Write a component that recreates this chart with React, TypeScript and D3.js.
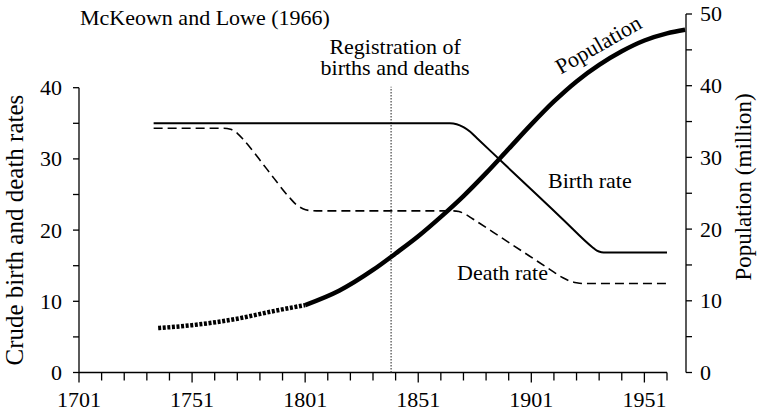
import React, { useRef, useEffect } from 'react';
import * as d3 from 'd3';

const birthYears = [1734, 1865, 1868, 1871, 1874, 1877, 1890, 1903, 1915, 1928, 1930, 1932, 1934, 1961];
const birthRate = [35, 35, 34.87, 34.45, 33.8, 32.9, 29.0, 25.1, 21.5, 17.6, 17.1, 16.9, 16.85, 16.85];

const deathYears = [1734, 1765, 1768, 1771, 1774, 1784, 1794, 1797, 1800, 1803, 1806, 1866, 1869, 1872, 1875, 1888, 1900, 1911, 1915, 1918, 1921, 1924, 1961];
const deathRate = [34.3, 34.3, 34.15, 33.6, 32.6, 28.6, 24.6, 23.6, 23.0, 22.75, 22.7, 22.7, 22.6, 22.2, 21.6, 18.9, 16.4, 14.1, 13.3, 12.85, 12.6, 12.5, 12.5];

// estimated population before registration (dotted part)
const popEstYears = [1736, 1751, 1771, 1786, 1801];
const popEst = [6.2, 6.6, 7.5, 8.5, 9.4];

const popYears = [1801, 1816, 1831, 1841, 1851, 1861, 1871, 1881, 1891, 1901, 1911, 1921, 1931, 1941, 1951, 1961, 1969];
const population = [9.4, 11.4, 14.3, 16.6, 19.0, 21.7, 24.6, 27.8, 31.2, 34.6, 37.8, 40.6, 42.9, 44.8, 46.3, 47.3, 47.8];

const registrationYear = 1839;
const xTickYears = d3.range(1701, 1962, 10);
const xLabelYears = [1701, 1751, 1801, 1851, 1901, 1951];
const leftTicks = d3.range(0, 41, 5);
const rightTicks = d3.range(0, 51, 5);

const FONT = '"Liberation Serif", "Times New Roman", serif';

const App = () => {
  const svgRef = useRef<SVGSVGElement>(null);
  const width = 760;
  const height = 413;

  useEffect(() => {
    document.body.style.margin = '0';
    const svg = d3.select(svgRef.current);
    svg.selectAll('*').remove();

    const x = d3.scaleLinear().domain([1701, 1961]).range([79, 667]);
    const yL = d3.scaleLinear().domain([0, 40]).range([372.5, 87.7]);
    const yR = d3.scaleLinear().domain([0, 50]).range([372.5, 14]);
    const rightAxisX = 686;

    // left axis
    const gL = svg.append('g').attr('transform', `translate(${x(1701)},0)`);
    gL.append('line').attr('y1', yL(0)).attr('y2', yL(40)).attr('stroke', '#000').attr('stroke-width', 1.3);
    gL.selectAll('line.tick').data(leftTicks).join('line')
      .attr('class', 'tick')
      .attr('x1', -6).attr('x2', 0)
      .attr('y1', d => yL(d)).attr('y2', d => yL(d))
      .attr('stroke', '#000').attr('stroke-width', 1.3);
    gL.selectAll('text').data(leftTicks.filter(d => d % 10 === 0)).join('text')
      .attr('x', -17).attr('y', d => yL(d)).attr('dy', '0.34em')
      .attr('text-anchor', 'end')
      .style('font-family', FONT).style('font-size', '22px')
      .text(d => d);

    // x axis
    const gX = svg.append('g').attr('transform', `translate(0,${yL(0)})`);
    gX.append('line').attr('x1', x(1701)).attr('x2', x(1961)).attr('stroke', '#000').attr('stroke-width', 1.3);
    gX.selectAll('line.tick').data(xTickYears).join('line')
      .attr('class', 'tick')
      .attr('x1', d => x(d)).attr('x2', d => x(d))
      .attr('y1', 0).attr('y2', d => (xLabelYears.includes(d) ? 10 : 8))
      .attr('stroke', '#000').attr('stroke-width', 1.3);
    gX.selectAll('text').data(xLabelYears).join('text')
      .attr('x', d => x(d)).attr('y', 34)
      .attr('text-anchor', 'middle')
      .style('font-family', FONT).style('font-size', '22px')
      .text(d => d);

    // right axis
    const gR = svg.append('g').attr('transform', `translate(${rightAxisX},0)`);
    gR.append('line').attr('y1', yR(0)).attr('y2', yR(50)).attr('stroke', '#000').attr('stroke-width', 1.3);
    gR.selectAll('line.tick').data(rightTicks).join('line')
      .attr('class', 'tick')
      .attr('x1', 0).attr('x2', 6)
      .attr('y1', d => yR(d)).attr('y2', d => yR(d))
      .attr('stroke', '#000').attr('stroke-width', 1.3);
    gR.selectAll('text').data(rightTicks.filter(d => d % 10 === 0)).join('text')
      .attr('x', 14).attr('y', d => yR(d)).attr('dy', '0.34em')
      .style('font-family', FONT).style('font-size', '22px')
      .text(d => d);

    // axis titles
    svg.append('text')
      .attr('transform', `translate(23,${(yL(0) + yL(40)) / 2}) rotate(-90)`)
      .attr('text-anchor', 'middle')
      .style('font-family', FONT).style('font-size', '25px')
      .text('Crude birth and death rates');
    svg.append('text')
      .attr('transform', `translate(751,187) rotate(-90)`)
      .attr('text-anchor', 'middle')
      .style('font-family', FONT).style('font-size', '23px')
      .text('Population (million)');

    // registration line
    svg.append('line')
      .attr('x1', x(registrationYear)).attr('x2', x(registrationYear))
      .attr('y1', yL(0)).attr('y2', yL(40) - 1)
      .attr('stroke', '#444').attr('stroke-width', 1.2)
      .attr('stroke-dasharray', '1.5,1.5');

    const lineL = d3.line<[number, number]>()
      .x(d => x(d[0])).y(d => yL(d[1]))
      .curve(d3.curveMonotoneX);
    const lineR = d3.line<[number, number]>()
      .x(d => x(d[0])).y(d => yR(d[1]))
      .curve(d3.curveMonotoneX);

    const zip = (a: number[], b: number[]) => a.map((v, i) => [v, b[i]] as [number, number]);

    svg.append('path')
      .datum(zip(birthYears, birthRate))
      .attr('fill', 'none').attr('stroke', '#000').attr('stroke-width', 2)
      .attr('d', lineL);

    svg.append('path')
      .datum(zip(deathYears, deathRate))
      .attr('fill', 'none').attr('stroke', '#000').attr('stroke-width', 1.6)
      .attr('stroke-dasharray', '9,5')
      .attr('d', lineL);

    svg.append('path')
      .datum(zip(popEstYears, popEst))
      .attr('fill', 'none').attr('stroke', '#000').attr('stroke-width', 4.5)
      .attr('stroke-dasharray', '3,1.6')
      .attr('d', lineR);

    svg.append('path')
      .datum(zip(popYears, population))
      .attr('fill', 'none').attr('stroke', '#000').attr('stroke-width', 4.5)
      .attr('d', lineR);

    // labels
    const label = (t: string, px: number, py: number, anchor = 'start', rot = 0) =>
      svg.append('text')
        .attr('transform', `translate(${px},${py}) rotate(${rot})`)
        .attr('text-anchor', anchor)
        .style('font-family', FONT).style('font-size', '22px')
        .text(t);

    label('McKeown and Lowe (1966)', 80, 25);
    label('Registration of', x(registrationYear) + 4, 54, 'middle');
    label('births and deaths', x(registrationYear) + 4, 75, 'middle');
    label('Population', 602, 51, 'middle', -30);
    label('Birth rate', 548, 188);
    label('Death rate', 457, 280);
  }, []);

  return (
    <div>
      <svg ref={svgRef} width={width} height={height} style={{ display: 'block', background: '#fff' }}></svg>
    </div>
  );
};

export default App;
